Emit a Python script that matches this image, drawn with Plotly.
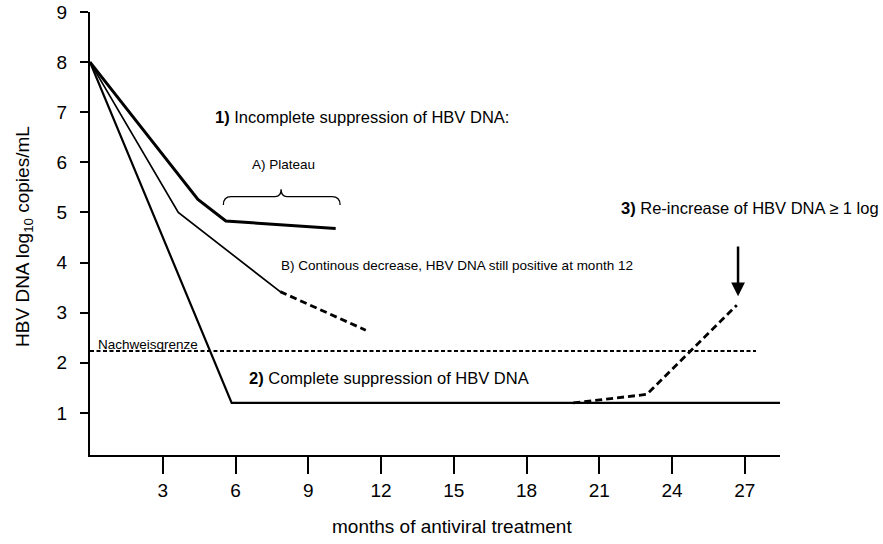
import plotly.graph_objects as go

# ---- data (months, log10 copies/mL) ----
months_plateau = [0, 4.45, 5.6, 10.13]
hbv_plateau = [8.0, 5.26, 4.83, 4.68]

months_decrease = [0, 3.64, 7.84]
hbv_decrease = [8.0, 5.0, 3.42]
months_decrease_ext = [7.84, 11.37]
hbv_decrease_ext = [3.42, 2.65]

months_complete = [0, 5.84, 28.45]
hbv_complete = [8.0, 1.2, 1.2]

months_rebound = [19.93, 22.96, 26.67]
hbv_rebound = [1.2, 1.37, 3.15]

months_limit = [0, 27.46]
hbv_limit = [2.235, 2.235]

x_ticks = [3, 6, 9, 12, 15, 18, 21, 24, 27]
y_ticks = [1, 2, 3, 4, 5, 6, 7, 8, 9]

FONT = "Liberation Sans, Arial, sans-serif"
BLACK = "#000000"

fig = go.Figure()

fig.add_trace(go.Scatter(x=months_complete, y=hbv_complete, mode="lines",
                         line=dict(color=BLACK, width=2.2), cliponaxis=False))
fig.add_trace(go.Scatter(x=months_decrease, y=hbv_decrease, mode="lines",
                         line=dict(color=BLACK, width=1.7)))
fig.add_trace(go.Scatter(x=months_decrease_ext, y=hbv_decrease_ext, mode="lines",
                         line=dict(color=BLACK, width=2.8, dash="7px,4px")))
fig.add_trace(go.Scatter(x=months_plateau, y=hbv_plateau, mode="lines",
                         line=dict(color=BLACK, width=3)))
fig.add_trace(go.Scatter(x=months_rebound, y=hbv_rebound, mode="lines",
                         line=dict(color=BLACK, width=2.8, dash="7px,4px")))
fig.add_trace(go.Scatter(x=months_limit, y=hbv_limit, mode="lines",
                         line=dict(color=BLACK, width=2, dash="4px,2.5px")))

# curly brace above the plateau
brace = ("M 5.50 5.15 Q 5.50 5.314 5.81 5.314 L 7.63 5.314 "
         "Q 7.88 5.314 7.88 5.462 Q 7.88 5.314 8.12 5.314 "
         "L 9.98 5.314 Q 10.31 5.314 10.31 5.15")
fig.add_shape(type="path", path=brace, xref="x", yref="y",
              line=dict(color=BLACK, width=1.3))

ann = [
    dict(x=5.07, y=6.90, text="<b>1)</b> Incomplete suppression of HBV DNA:",
         xanchor="left", yanchor="middle", font=dict(size=16.5)),
    dict(x=7.97, y=5.95, text="A) Plateau", xanchor="center", yanchor="middle",
         font=dict(size=13.5)),
    dict(x=7.8, y=3.95, text="B) Continous decrease, HBV DNA still positive at month 12",
         xanchor="left", yanchor="middle", font=dict(size=13.5)),
    dict(x=6.47, y=1.69, text="<b>2)</b> Complete suppression of HBV DNA",
         xanchor="left", yanchor="middle", font=dict(size=16.5)),
    dict(x=21.82, y=5.08, text="<b>3)</b> Re-increase of HBV DNA ≥ 1 log",
         xanchor="left", yanchor="middle", font=dict(size=16.5)),
    dict(x=0.25, y=2.37, text="Nachweisgrenze", xanchor="left", yanchor="middle",
         font=dict(size=13.5)),
]
for a in ann:
    a.update(xref="x", yref="y", showarrow=False)
    a["font"].update(family=FONT, color=BLACK)
    fig.add_annotation(**a)

# arrow pointing at the re-increase
fig.add_annotation(x=26.72, y=3.33, ax=26.72, ay=4.35, xref="x", yref="y",
                   axref="x", ayref="y", text="", showarrow=True,
                   arrowhead=2, arrowsize=1.1, arrowwidth=2.5, arrowcolor=BLACK)

# axis titles
fig.add_annotation(x=0.525, y=-0.1625, xref="paper", yref="paper",
                   text="months of antiviral treatment", showarrow=False,
                   xanchor="center", yanchor="middle",
                   font=dict(family=FONT, size=19, color=BLACK))
fig.add_annotation(x=-0.096, y=0.494, xref="paper", yref="paper",
                   text="HBV DNA log<sub>10</sub> copies/mL", showarrow=False,
                   textangle=-90, xanchor="center", yanchor="middle",
                   font=dict(family=FONT, size=19, color=BLACK))

fig.update_layout(
    width=883, height=544,
    margin=dict(l=90, r=103, t=12, b=89, autoexpand=False),
    paper_bgcolor="white", plot_bgcolor="white",
    showlegend=False,
    font=dict(family=FONT, color=BLACK),
)
fig.update_xaxes(range=[0, 28.45], tickvals=x_ticks, ticktext=[str(v) for v in x_ticks],
                 showgrid=False, zeroline=False, showline=True, linecolor=BLACK,
                 linewidth=2, ticks="outside", ticklen=17, tickwidth=1.5,
                 tickcolor=BLACK, automargin=False,
                 tickfont=dict(family=FONT, size=19, color=BLACK))
fig.update_yaxes(range=[0.16, 9], tickvals=y_ticks, ticktext=[str(v) for v in y_ticks],
                 showgrid=False, zeroline=False, showline=True, linecolor=BLACK,
                 linewidth=2, ticks="outside", ticklen=8, tickwidth=1.5,
                 tickcolor=BLACK, ticklabelstandoff=9, automargin=False,
                 tickfont=dict(family=FONT, size=19, color=BLACK))

fig.write_html("out.html", config={"displayModeBar": False},
               post_script="document.body.style.margin='0';")
